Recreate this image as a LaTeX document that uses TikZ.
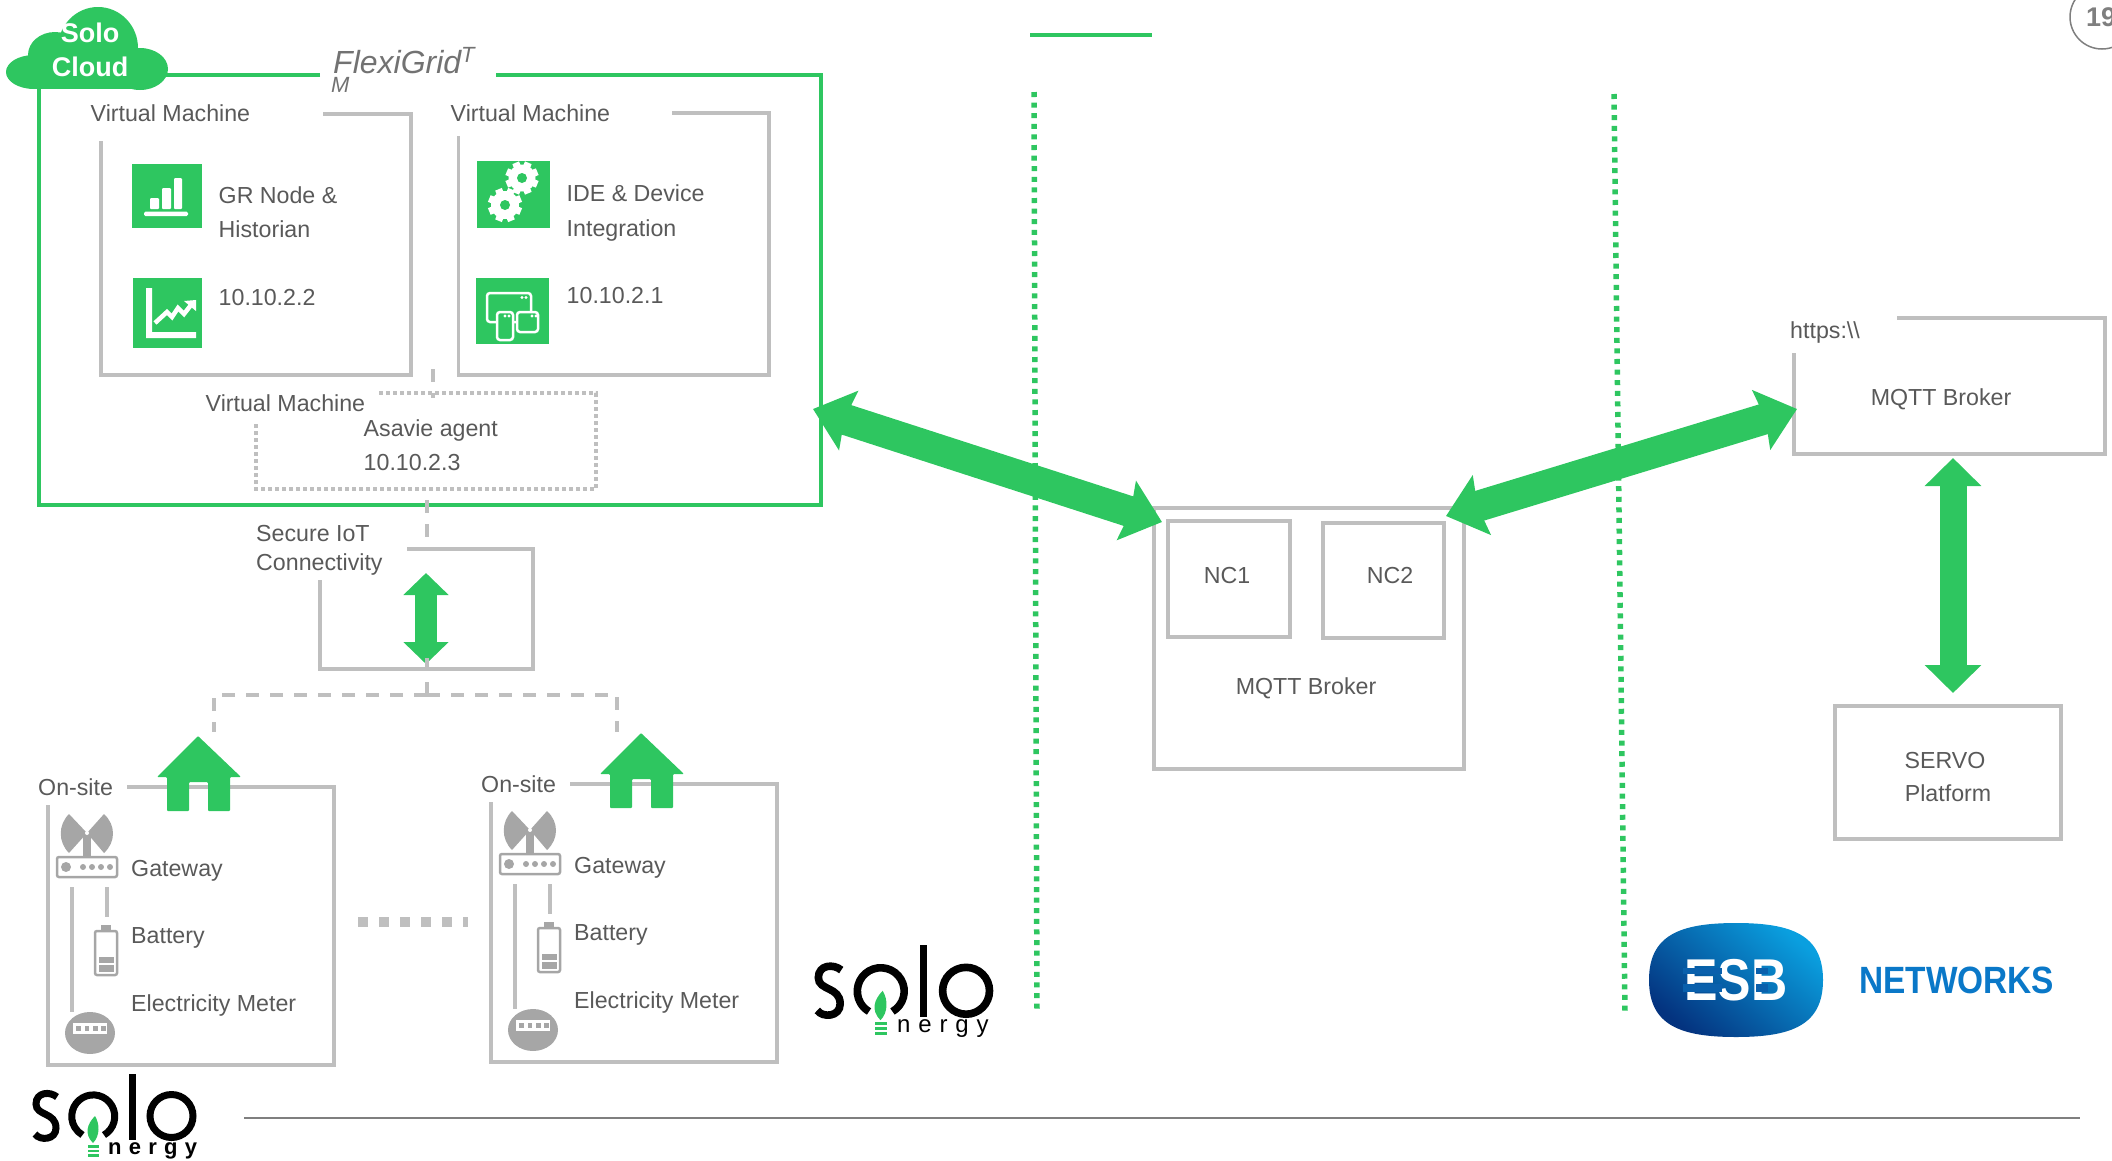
\documentclass[tikz,border=0pt]{standalone}
\usepackage{fontspec}
\setmainfont{Liberation Sans}
\newfontfamily\nergyfont[LetterSpace=33]{Liberation Sans}
\usetikzlibrary{arrows.meta}
\definecolor{sgreen}{HTML}{2EC660}
\definecolor{lgray}{HTML}{BFBFBF}
\definecolor{igray}{HTML}{A6A6A6}
\definecolor{tgray}{HTML}{595959}
\definecolor{rulegray}{HTML}{7F7F7F}
\definecolor{esbdark}{HTML}{04337F}
\definecolor{esblight}{HTML}{0A9FDF}
\definecolor{esbmid}{HTML}{0A60AC}
\definecolor{esbtext}{HTML}{0A78C8}
\tikzset{
  lbl/.style={anchor=west,inner sep=0pt,text=tgray,font=\fontsize{23.2}{23.2}\selectfont},
  clbl/.style={lbl,anchor=center},
  boxline/.style={draw=lgray,line width=3.5pt},
  boxnode/.style={boxline,rectangle,inner sep=0pt},
  outerline/.style={draw=sgreen,line width=3.5pt},
  dashline/.style={draw=lgray,line width=3.5pt,dash pattern=on 13pt off 11pt},
  dotline/.style={draw=lgray,line width=3.5pt,dash pattern=on 4pt off 3pt},
  gdots/.style={draw=sgreen,line width=5.5pt,dash pattern=on 5pt off 5.6pt},
  bigarrow/.style={draw=sgreen,line width=31pt,{Stealth[length=37pt,width=61pt,inset=4pt,sgreen]}-{Stealth[length=37pt,width=61pt,inset=4pt,sgreen]}},
  iotarrow/.style={draw=sgreen,line width=22pt,{Triangle[length=22pt,width=44pt,sgreen]}-{Triangle[length=22pt,width=44pt,sgreen]}},
  vertarrow/.style={draw=sgreen,line width=27pt,{Triangle[length=28pt,width=55pt,sgreen]}-{Triangle[length=28pt,width=55pt,sgreen]}},
  iconline/.style={draw=white,line width=2.5pt,rounded corners=3pt},
}
\newcommand{\geargl}[3]{%
  \foreach \a in {0,45,...,315}{\fill[white,shift={(#1,#2)},rotate=\a+22.5] (-3.6pt,0pt) rectangle (3.6pt,#3 pt);}
  \fill[white] (#1,#2) circle[radius=#3 pt-3pt];
  \fill[sgreen] (#1,#2) circle[radius=5pt];
}
\newcommand{\onsite}[3]{%
\begin{scope}[shift={(#2,#3)},name prefix=#1-]
  \draw[boxline] (127,787) -- (334,787) -- (334,1065) -- (48,1065) -- (48,805);
  \node[lbl] (site) at (38,787) {On-site};
  % house
  \fill[sgreen,rounded corners=1pt] (198,736) -- (241,777) -- (230,777) -- (230,811) -- (208,811) -- (208,782) -- (189,782) -- (189,811) -- (167,811) -- (167,777) -- (157,777) -- cycle;
  % antenna
  \fill[igray] (87,833) -- (69,814) .. controls (58,825) and (58,842) .. (69,853) -- cycle;
  \fill[igray] (87,833) -- (104,814) .. controls (116,825) and (116,842) .. (104,853) -- cycle;
  \fill[igray] (83,833) rectangle (91,858);
  \fill[white] (87,833) circle[radius=2pt];
  \draw[igray,line width=2.5pt,rounded corners=2pt] (57,857) rectangle (117,877);
  \fill[igray] (66,867) circle[radius=5pt];
  \foreach \q in {83,92,101,110}{\fill[igray] (\q,867) circle[radius=3pt];}
  \coordinate (gwa) at (72,887); \coordinate (gwb) at (107,887);
  \coordinate (bat) at (107,917); \coordinate (met) at (72,1012);
  \draw[boxline] (gwa) -- (met);
  \draw[boxline] (gwb) -- (bat);
  % battery
  \fill[igray] (101,925) rectangle (111,930);
  \draw[igray,line width=2.5pt,rounded corners=2pt] (95,931) rectangle (117,975);
  \fill[igray] (98.5,957) rectangle (114,963);
  \fill[igray] (98.5,965) rectangle (114,972);
  % meter
  \fill[igray] (90,1033) ellipse[x radius=25pt,y radius=21pt];
  \fill[white] (73,1023) rectangle (107,1034);
  \foreach \q in {76,84.5,93,101}{\fill[igray] (\q,1026) rectangle (\q+4.5,1031);}
  \node[lbl] (gw) at (131,870.5) {Gateway};
  \node[lbl] (bt) at (131,937.5) {Battery};
  \node[lbl] (em) at (131,1005.5) {Electricity Meter};
\end{scope}}
\newcommand{\solologo}[5]{%
\begin{scope}[shift={(#1,#2)},scale=#3,line cap=butt]
  \draw[black,line width=#3*7pt] (25,23) .. controls (18,17) and (4,18) .. (4,30) .. controls (4,42) and (24,38) .. (24,54) .. controls (24,66) and (8,67) .. (3,60);
  \draw[black,line width=#3*7pt] (72,61) arc[start angle=-60,end angle=240,radius=21.5pt];
  \fill[black] (97,0) rectangle (104,66);
  \draw[black,line width=#3*7pt] (139.5,42) circle[radius=21.5pt];
  \fill[sgreen] (63,42) .. controls (55,50) and (52,60) .. (61,69) .. controls (68,62) and (68,50) .. cycle;
  \fill[sgreen] (56,71) rectangle (67,73.5);
  \fill[sgreen] (56,75.5) rectangle (67,78);
  \fill[sgreen] (56,80) rectangle (67,82.5);
  \node[anchor=west,inner sep=0pt,transform shape,font=\nergyfont#4\fontsize{22}{22}\selectfont] (#5) at (76,77) {nergy};
\end{scope}}
\begin{document}
\begin{tikzpicture}[x=1pt,y=-1pt]
\useasboundingbox (0,0) rectangle (2112,1160);
% dotted dividers
\coordinate (d1a) at (1034,92); \coordinate (d1b) at (1037,1012);
\coordinate (d2a) at (1614,94); \coordinate (d2b) at (1625,1012);
\draw[gdots] (d1a) -- (d1b);
\draw[gdots] (d2a) -- (d2b);
\coordinate (ta) at (1030,35); \coordinate (tb) at (1152,35);
\draw[sgreen,line width=3.5pt] (ta) -- (tb);
% page number
\node[circle,draw=rulegray,line width=1.5pt,minimum size=64pt,inner sep=0pt] (pagec) at (2102,17) {};
\node[anchor=west,inner sep=0pt,text=rulegray,font=\bfseries\fontsize{27}{27}\selectfont] (pagen) at (2086,17) {19};
% outer box
\draw[outerline] (320,75) -- (150,75);
\draw[outerline] (39,80) -- (39,505) -- (821,505) -- (821,75) -- (496,75);
\node[anchor=west,inner sep=0pt,text=tgray!85,font=\itshape\fontsize{32}{32}\selectfont] (fg) at (333,62) {FlexiGrid};
\node[anchor=west,inner sep=0pt,text=tgray!85,font=\itshape\fontsize{22}{22}\selectfont] (fgt) at (461,55) {T};
\node[anchor=west,inner sep=0pt,text=tgray!85,font=\itshape\fontsize{22}{22}\selectfont] (fgm) at (331,85) {M};
% cloud
\fill[sgreen] (98,48) ellipse[x radius=40pt,y radius=41pt];
\fill[sgreen] (55,55) ellipse[x radius=27pt,y radius=23pt];
\fill[sgreen] (34,72) ellipse[x radius=28pt,y radius=17pt];
\fill[sgreen] (140,69) ellipse[x radius=28pt,y radius=21pt];
\fill[sgreen] (34,60) rectangle (145,89);
\node[inner sep=0pt,text=white,font=\bfseries\fontsize{27}{27}\selectfont] (solo) at (90,33) {Solo};
\node[inner sep=0pt,text=white,font=\bfseries\fontsize{27}{27}\selectfont] (cloud) at (90,67) {Cloud};
% VM boxes
\draw[boxline] (323,114) -- (411,114) -- (411,375) -- (101,375) -- (101,141);
\draw[boxline] (672,113) -- (769,113) -- (769,375) -- (458.5,375) -- (458.5,136);
\node[lbl] (vm1) at (90.5,113) {Virtual Machine};
\node[lbl] (vm2) at (450.5,113.5) {Virtual Machine};
\node[lbl] (vm3) at (205.5,403) {Virtual Machine};
% icons
\fill[sgreen] (132,164) rectangle (202,228);
\fill[white,rounded corners=1pt] (150,198) rectangle (159,209);
\fill[white,rounded corners=1pt] (162,188) rectangle (171,209);
\fill[white,rounded corners=1pt] (174,178) rectangle (182,209);
\fill[white,rounded corners=1.5pt] (144,211.5) rectangle (188,216);
\fill[sgreen] (133,278) rectangle (202,348);
\fill[white] (146,288) -- (152,288) -- (152,332) -- (196,332) -- (196,338) -- (146,338) -- cycle;
\draw[white,line width=4.5pt] (155,323) -- (167,312) -- (172,317) -- (178,308) -- (184,314) -- (191,305);
\fill[white] (184,301) -- (196,300) -- (196,311) -- cycle;
\fill[sgreen] (477,161) rectangle (550,228);
\geargl{522}{178}{16.5}
\geargl{505}{205}{17}
\fill[sgreen] (476,278) rectangle (549,344);
\draw[iconline] (487,293) rectangle (531,322);
\draw[iconline,fill=sgreen] (497,312) rectangle (513,340);
\draw[iconline,fill=sgreen] (517,312) rectangle (538,332);
\foreach \q/\r in {522/297.5,526/297.5,505/316,509/316,532/316,536/316}{\fill[white] (\q,\r) circle[radius=1.6pt];}
% VM texts
\node[lbl] (gr1) at (218.5,195) {GR Node \&};
\node[lbl] (gr2) at (218.5,229) {Historian};
\node[lbl] (ip2) at (218.5,298) {10.10.2.2};
\node[lbl] (ide1) at (566.5,193) {IDE \& Device};
\node[lbl] (ide2) at (566.5,230.5) {Integration};
\node[lbl] (ip1) at (566.5,296) {10.10.2.1};
% Asavie
\draw[dotline] (379,393) -- (596,393) -- (596,489) -- (256,489) -- (256,422);
\node[lbl] (asv) at (363.5,430.5) {Asavie agent};
\node[lbl] (ip3) at (363.5,463) {10.10.2.3};
\coordinate (vmdA) at (433,369); \coordinate (vmdB) at (433,398);
\draw[dashline] (vmdA) -- (vmdB);
\coordinate (outA) at (427,500); \coordinate (outB) at (427,537);
\draw[dashline] (outA) -- (outB);
% IoT
\draw[boxline] (407,549) -- (533,549) -- (533,669) -- (320,669) -- (320,580);
\node[lbl] (sec1) at (256,534) {Secure IoT};
\node[lbl] (sec2) at (256,564.5) {Connectivity};
\coordinate (ia) at (426,573); \coordinate (ib) at (426,664);
\draw[iotarrow] (ia) -- (ib);
\coordinate (iotb) at (427,658); \coordinate (treeC) at (427,695);
\coordinate (treeL) at (214,732); \coordinate (treeR) at (617,732);
\draw[dashline] (iotb) -- (treeC);
\draw[dashline] (treeC) -| (treeL);
\draw[dashline] (treeC) -| (treeR);
% on-site
\onsite{a}{0}{0}
\onsite{b}{443}{-3}
\coordinate (sqA) at (358,922); \coordinate (sqB) at (468,922);
\draw[lgray,line width=10.5pt,dash pattern=on 10.4pt off 10.6pt] (sqA) -- (sqB);
% middle box
\node[boxnode,minimum width=310pt,minimum height=261pt] (mqttbox) at (1309,638.5) {};
\node[boxnode,minimum width=122pt,minimum height=116pt] (nc1) at (1229,579) {};
\node[boxnode,minimum width=121pt,minimum height=115pt] (nc2) at (1383.5,580.5) {};
\node[clbl] (nc1l) at (1227,575.5) {NC1};
\node[clbl] (nc2l) at (1390,575.5) {NC2};
\node[clbl] (mq1) at (1306,688) {MQTT Broker};
% right
\draw[boxline] (1897,318) -- (2105,318) -- (2105,454) -- (1794,454) -- (1794,353);
\node[lbl] (https) at (1790,332.5) {https:\textbackslash\textbackslash};
\node[clbl] (mq2) at (1941,399) {MQTT Broker};
\node[boxnode,minimum width=226pt,minimum height=133pt] (servo) at (1948,772.5) {};
\node[clbl] (sv1) at (1945,761) {SERVO};
\node[clbl] (sv2) at (1948,793.5) {Platform};
% big arrows
\coordinate (a1) at (813,409); \coordinate (a2) at (1162,522);
\draw[bigarrow] (a1) -- (a2);
\coordinate (a3) at (1446,516); \coordinate (a4) at (1797,409);
\draw[bigarrow] (a3) -- (a4);
\coordinate (a5) at (1953,458); \coordinate (a6) at (1953,693);
\draw[vertarrow] (a5) -- (a6);
% logos
\solologo{32}{1074}{1}{\bfseries}{nergyA}
\solologo{814}{945}{1.09}{}{nergyB}
% ESB
\path[shade,top color=esblight,bottom color=esbdark,shading angle=-40] (1649,980) .. controls (1649,935) and (1680,923) .. (1736,923) .. controls (1792,923) and (1823,935) .. (1823,980) .. controls (1823,1025) and (1792,1037) .. (1736,1037) .. controls (1680,1037) and (1649,1025) .. (1649,980) -- cycle;
\node[inner sep=0pt,text=white,font=\bfseries\fontsize{59}{59}\selectfont,xscale=.85] (esb) at (1736,980) {ESB};
\fill[esbmid] (1683,968) rectangle (1722,974);
\fill[esbmid] (1683,984) rectangle (1722,992);
\fill[esbmid] (1756,968) rectangle (1768,974);
\fill[esbmid] (1756,984) rectangle (1768,992);
\node[anchor=west,inner sep=0pt,text=esbtext,font=\bfseries\fontsize{38}{38}\selectfont,xscale=.88] (nw) at (1859,980) {NETWORKS};
% bottom rule
\coordinate (ra) at (244,1118); \coordinate (rb) at (2080,1118);
\draw[rulegray,line width=2pt] (ra) -- (rb);
\end{tikzpicture}
\end{document}
